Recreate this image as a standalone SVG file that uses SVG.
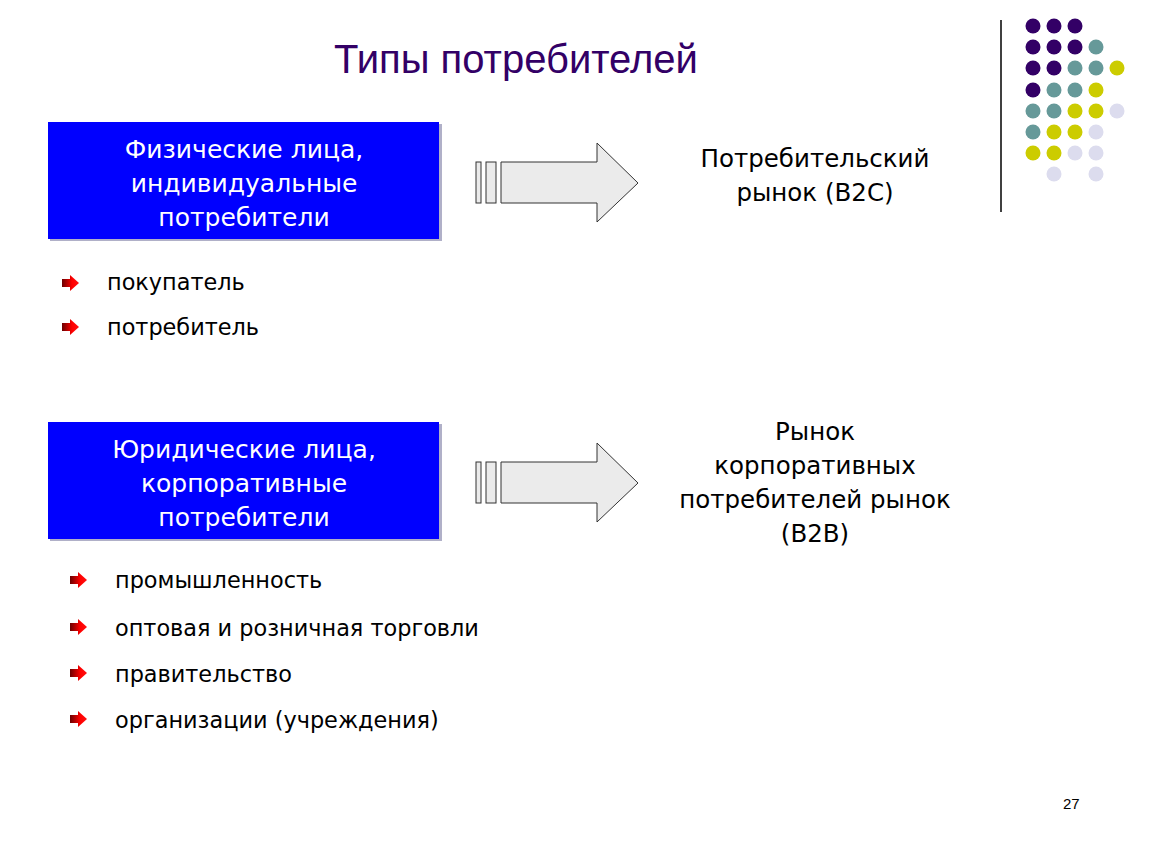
<svg xmlns="http://www.w3.org/2000/svg" width="1150" height="864" viewBox="0 0 1150 864">
<defs>
<linearGradient id="bg" x1="0" y1="0" x2="1" y2="0">
<stop offset="0" stop-color="#6a0000"/>
<stop offset="0.6" stop-color="#ff0000"/>
<stop offset="1" stop-color="#ff1010"/>
</linearGradient>
<symbol id="bullet" overflow="visible">
<path d="M0,3 H8 V-1 L17,7 L8,15 V11 H0 Z" fill="url(#bg)"/>
</symbol>
<g id="bigarrow" fill="#ebebeb" stroke="#333333" stroke-width="1">
<rect x="476" y="162" width="5" height="41"/>
<rect x="486" y="162" width="10" height="41"/>
<path d="M501,162 H597 V143 L638,183 L597,222 V203 H501 Z"/>
</g>
</defs>
<style>
.title{font-family:"Liberation Sans",Arial,sans-serif;font-size:40px;fill:#330066}
.box{fill:#0000ff}
.shadow{fill:#b0b0c8}
.boxt{font-family:"DejaVu Sans",Verdana,sans-serif;font-size:25px;fill:#ffffff;text-anchor:middle}
.mkt{font-family:"DejaVu Sans",Verdana,sans-serif;font-size:24.5px;fill:#000000;text-anchor:middle}
.item{font-family:"DejaVu Sans",Verdana,sans-serif;font-size:22.4px;fill:#000000}
.num{font-family:"Liberation Sans",Arial,sans-serif;font-size:15px;fill:#000000}
</style>
<rect width="1150" height="864" fill="#ffffff"/>

<text class="title" x="516" y="73" text-anchor="middle">Типы потребителей</text>

<g id="decor">
<line x1="1001" y1="20" x2="1001" y2="212" stroke="#000000" stroke-width="1.5"/>
<g fill="#330066">
<circle cx="1033" cy="26" r="7.5"/><circle cx="1054" cy="26" r="7.5"/><circle cx="1075" cy="26" r="7.5"/>
<circle cx="1033" cy="47" r="7.5"/><circle cx="1054" cy="47" r="7.5"/><circle cx="1075" cy="47" r="7.5"/>
<circle cx="1033" cy="68" r="7.5"/><circle cx="1054" cy="68" r="7.5"/>
<circle cx="1033" cy="90" r="7.5"/>
</g>
<g fill="#669999">
<circle cx="1096" cy="47" r="7.5"/>
<circle cx="1075" cy="68" r="7.5"/><circle cx="1096" cy="68" r="7.5"/>
<circle cx="1054" cy="90" r="7.5"/><circle cx="1075" cy="90" r="7.5"/>
<circle cx="1033" cy="111" r="7.5"/><circle cx="1054" cy="111" r="7.5"/>
<circle cx="1033" cy="132" r="7.5"/>
</g>
<g fill="#cccc00">
<circle cx="1117" cy="68" r="7.5"/>
<circle cx="1096" cy="90" r="7.5"/>
<circle cx="1075" cy="111" r="7.5"/><circle cx="1096" cy="111" r="7.5"/>
<circle cx="1054" cy="132" r="7.5"/><circle cx="1075" cy="132" r="7.5"/>
<circle cx="1033" cy="153" r="7.5"/><circle cx="1054" cy="153" r="7.5"/>
</g>
<g fill="#dcdcee">
<circle cx="1117" cy="111" r="7.5"/>
<circle cx="1096" cy="132" r="7.5"/>
<circle cx="1075" cy="153" r="7.5"/><circle cx="1096" cy="153" r="7.5"/>
<circle cx="1054" cy="174" r="7.5"/><circle cx="1096" cy="174" r="7.5"/>
</g>
</g>

<g id="box-individuals">
<rect class="shadow" x="50" y="124" width="392" height="117"/>
<rect class="box" x="48" y="122" width="391" height="117"/>
<text class="boxt" x="244" y="158">Физические лица,</text>
<text class="boxt" x="244" y="192">индивидуальные</text>
<text class="boxt" x="244" y="226">потребители</text>
</g>

<g id="box-legal">
<rect class="shadow" x="50" y="424" width="392" height="117"/>
<rect class="box" x="48" y="422" width="391" height="117"/>
<text class="boxt" x="244" y="458">Юридические лица,</text>
<text class="boxt" x="244" y="492">корпоративные</text>
<text class="boxt" x="244" y="526">потребители</text>
</g>

<g id="market-b2c">
<text class="mkt" x="815" y="167">Потребительский</text>
<text class="mkt" x="815" y="201">рынок (B2C)</text>
</g>

<g id="market-b2b">
<text class="mkt" x="815" y="440">Рынок</text>
<text class="mkt" x="815" y="474">корпоративных</text>
<text class="mkt" x="815" y="508">потребителей рынок</text>
<text class="mkt" x="815" y="542">(B2B)</text>
</g>

<g id="connectors">
<use href="#bigarrow"/>
<use href="#bigarrow" transform="translate(0,300)"/>
</g>

<g id="list-individuals">
<use href="#bullet" x="62" y="276"/>
<text class="item" x="107" y="290">покупатель</text>
<use href="#bullet" x="62" y="320"/>
<text class="item" x="107" y="335">потребитель</text>
</g>

<g id="list-legal">
<use href="#bullet" x="70" y="573"/>
<text class="item" x="115" y="588">промышленность</text>
<use href="#bullet" x="70" y="620"/>
<text class="item" x="115" y="636">оптовая и розничная торговли</text>
<use href="#bullet" x="70" y="666"/>
<text class="item" x="115" y="682">правительство</text>
<use href="#bullet" x="70" y="712"/>
<text class="item" x="115" y="728">организации (учреждения)</text>
</g>

<text class="num" x="1063" y="809">27</text>
</svg>
